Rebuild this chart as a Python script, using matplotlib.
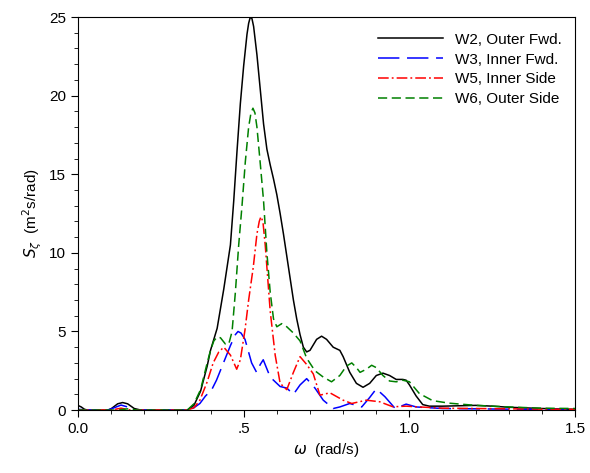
import matplotlib
matplotlib.use("Agg")
import matplotlib.pyplot as plt
import numpy as np

# W2, Outer Fwd. (black solid)
w2_x = [0.0, 0.01, 0.02, 0.03, 0.09, 0.10, 0.12, 0.135, 0.15, 0.17, 0.19, 0.33,
        0.35, 0.37, 0.39, 0.40, 0.42, 0.44, 0.46, 0.47, 0.48, 0.49, 0.50, 0.51,
        0.515, 0.52, 0.525, 0.53, 0.54, 0.55, 0.56, 0.57, 0.58, 0.59, 0.60, 0.61,
        0.62, 0.63, 0.64, 0.65, 0.66, 0.67, 0.68, 0.69, 0.70, 0.72, 0.735, 0.75,
        0.77, 0.79, 0.80, 0.82, 0.84, 0.86, 0.88, 0.90, 0.92, 0.94, 0.96, 0.98,
        0.99, 1.00, 1.02, 1.04, 1.06, 1.10, 1.20, 1.25, 1.30, 1.40, 1.50]
w2_y = [0.3, 0.2, 0.05, 0.0, 0.0, 0.08, 0.4, 0.48, 0.4, 0.1, 0.0, 0.0,
        0.3, 1.2, 2.8, 3.8, 5.2, 7.7, 10.5, 13.3, 16.5, 19.5, 21.9, 23.9,
        24.6, 25.0, 24.9, 24.4, 22.6, 20.4, 18.2, 16.6, 15.6, 14.7, 13.7, 12.5,
        11.2, 9.8, 8.4, 7.0, 5.8, 4.8, 4.0, 3.7, 3.8, 4.5, 4.7, 4.5,
        4.0, 3.8, 3.4, 2.4, 1.7, 1.45, 1.7, 2.2, 2.35, 2.2, 1.95, 1.95,
        1.9, 1.6, 0.9, 0.35, 0.25, 0.25, 0.3, 0.25, 0.18, 0.1, 0.05]

# W3, Inner Fwd. (blue long dash)
w3_x = [0.0, 0.03, 0.09, 0.11, 0.13, 0.15, 0.17, 0.33, 0.35, 0.368, 0.385, 0.403,
        0.418, 0.439, 0.46, 0.475, 0.483, 0.492, 0.504, 0.524, 0.539, 0.55, 0.559,
        0.58, 0.61, 0.63, 0.65, 0.67, 0.69, 0.715, 0.74, 0.77, 0.79, 0.82, 0.856,
        0.88, 0.90, 0.926, 0.957, 0.99, 1.02, 1.10, 1.20, 1.30, 1.40, 1.50]
w3_y = [0.05, 0.0, 0.0, 0.15, 0.32, 0.2, 0.0, 0.0, 0.15, 0.42, 0.9, 1.27,
        1.9, 3.0, 4.1, 4.8, 5.0, 4.9, 4.5, 3.0, 2.4, 2.9, 3.2,
        2.1, 1.5, 1.4, 1.0, 1.6, 2.0, 1.4, 0.63, 0.1, 0.2, 0.42, 0.2,
        0.8, 1.35, 0.85, 0.1, 0.38, 0.2, 0.1, 0.08, 0.06, 0.05, 0.05]

# W5, Inner Side (red dash-dot)
w5_x = [0.0, 0.10, 0.13, 0.16, 0.33, 0.35, 0.368, 0.39, 0.408, 0.425, 0.44, 0.46,
        0.479, 0.49, 0.504, 0.515, 0.529, 0.54, 0.547, 0.552, 0.558, 0.565, 0.58,
        0.595, 0.61, 0.63, 0.65, 0.67, 0.69, 0.71, 0.73, 0.76, 0.80, 0.826, 0.87,
        0.91, 0.95, 0.99, 1.03, 1.10, 1.20, 1.30, 1.40, 1.50]
w5_y = [0.0, 0.0, 0.12, 0.0, 0.0, 0.15, 0.63, 1.8, 3.0, 3.7, 4.0, 3.5,
        2.6, 3.2, 5.1, 7.0, 9.1, 11.2, 12.0, 12.3, 12.0, 10.5, 6.3,
        3.5, 1.7, 1.3, 2.4, 3.4, 2.9, 2.3, 0.95, 1.1, 0.63, 0.42, 0.63,
        0.53, 0.21, 0.25, 0.2, 0.12, 0.1, 0.08, 0.06, 0.05]

# W6, Outer Side (green dashed)
w6_x = [0.0, 0.12, 0.15, 0.18, 0.33, 0.35, 0.37, 0.39, 0.40, 0.41, 0.42, 0.43,
        0.445, 0.455, 0.465, 0.475, 0.485, 0.495, 0.505, 0.515, 0.522, 0.528, 0.534,
        0.54, 0.55, 0.56, 0.57, 0.58, 0.59, 0.60, 0.615, 0.63, 0.65, 0.67, 0.69,
        0.715, 0.74, 0.765, 0.79, 0.81, 0.826, 0.84, 0.851, 0.87, 0.886, 0.90,
        0.92, 0.94, 0.96, 0.98, 1.00, 1.03, 1.07, 1.12, 1.20, 1.30, 1.40, 1.50]
w6_y = [0.0, 0.0, 0.08, 0.0, 0.0, 0.4, 1.3, 3.0, 3.8, 4.4, 4.65, 4.6,
        4.2, 4.2, 5.0, 7.5, 10.5, 13.0, 15.8, 18.0, 18.9, 19.2, 18.9,
        18.0, 15.7, 13.3, 10.0, 7.5, 5.8, 5.3, 5.5, 5.3, 4.9, 4.4, 3.3,
        2.5, 2.1, 1.8, 2.2, 2.8, 3.0, 2.7, 2.4, 2.6, 2.85, 2.7,
        2.2, 1.85, 1.8, 1.9, 1.8, 1.05, 0.6, 0.44, 0.3, 0.2, 0.12, 0.1]

x_ticks = [0.0, 0.5, 1.0, 1.5]
x_tick_labels = ["0.0", ".5", "1.0", "1.5"]
y_ticks = [0, 5, 10, 15, 20, 25]

plt.rcParams['font.family'] = ['Liberation Sans', 'DejaVu Sans']

fig = plt.figure(figsize=(5.9, 4.73), dpi=100)
ax = fig.add_axes([0.132, 0.133, 0.843, 0.831])

ax.plot(w2_x, w2_y, color='black', lw=1.1, linestyle='-', label='W2, Outer Fwd.')
ax.plot(w3_x, w3_y, color='#0000ff', lw=1.1, linestyle=(0, (14, 5)), label='W3, Inner Fwd.')
ax.plot(w5_x, w5_y, color='#ff0000', lw=1.1, linestyle=(0, (7, 2, 1.2, 2)), label='W5, Inner Side')
ax.plot(w6_x, w6_y, color='#008000', lw=1.1, linestyle=(0, (6, 3)), label='W6, Outer Side')

ax.set_xlim(0, 1.5)
ax.set_ylim(0, 25)
ax.set_xticks(x_ticks)
ax.set_xticklabels(x_tick_labels)
ax.set_yticks(y_ticks)
ax.set_xticks(np.arange(0, 1.51, 0.1), minor=True)
ax.set_yticks(np.arange(0, 25.1, 1), minor=True)
ax.tick_params(which='both', direction='out', top=False, right=False, labelsize=11)
ax.tick_params(which='major', length=5)
ax.tick_params(which='minor', length=3)

ax.set_xlabel(r'$\omega$  (rad/s)', fontsize=11)
ax.set_ylabel(r'$S_\zeta$  (m$^2$s/rad)', fontsize=11)

ax.legend(loc='upper right', frameon=False, fontsize=11, handlelength=4.2,
          labelspacing=0.38, bbox_to_anchor=(1.0, 0.995))

fig.savefig('out.png', dpi=100)
